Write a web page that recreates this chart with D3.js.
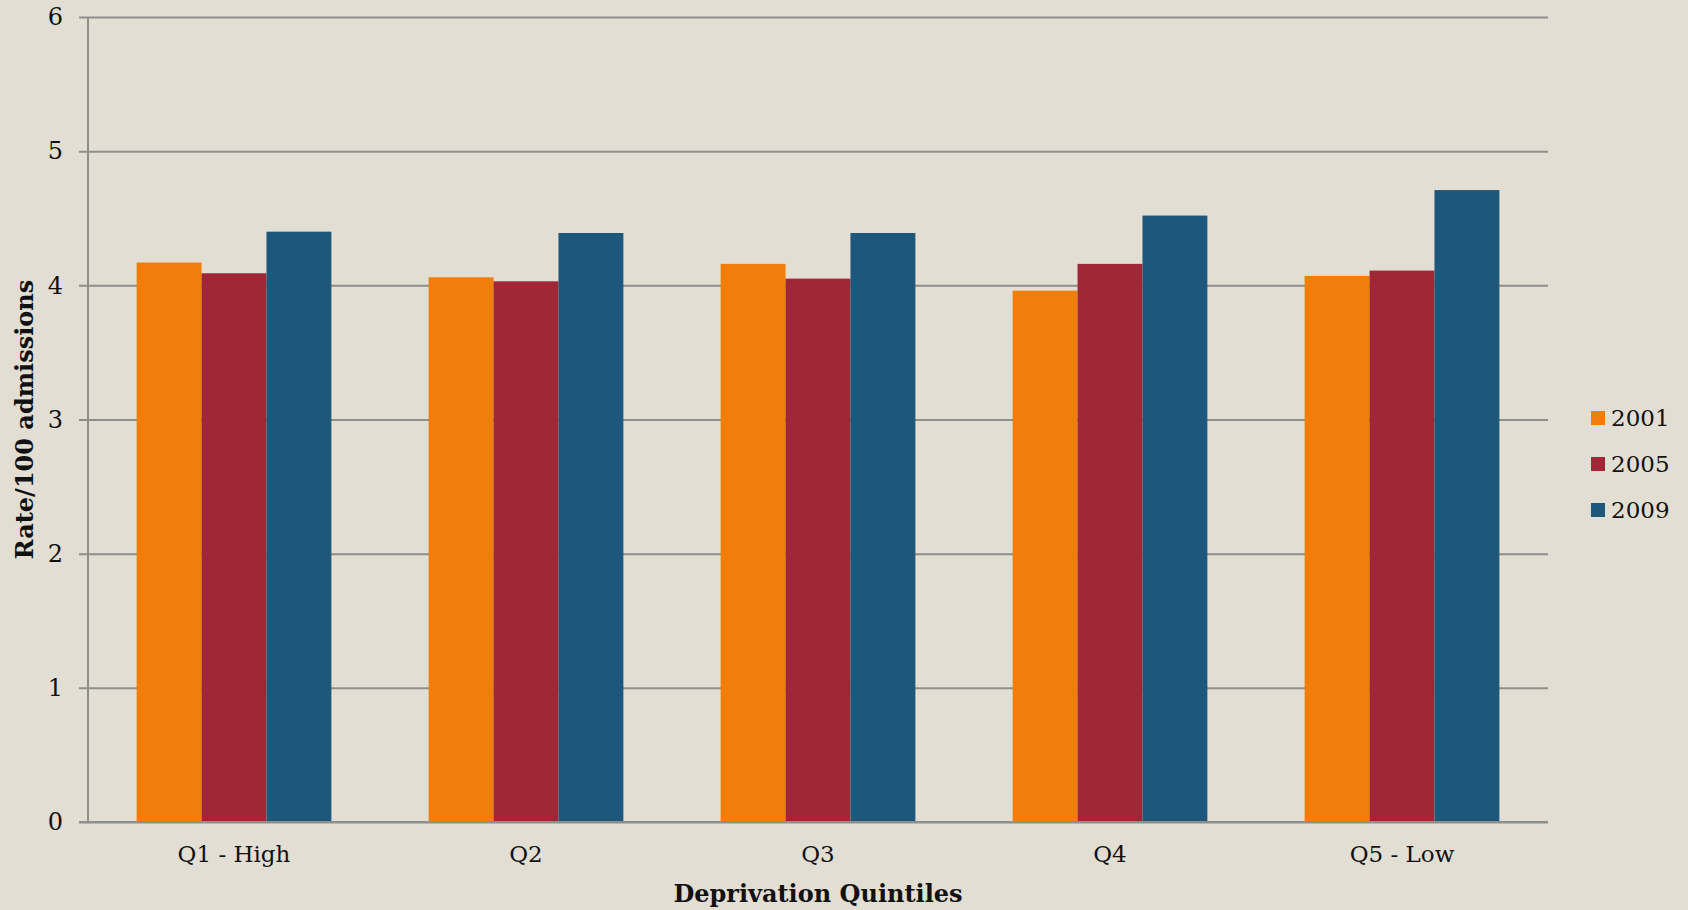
<!DOCTYPE html>
<html>
<head>
<meta charset="utf-8">
<script src="https://cdn.jsdelivr.net/npm/d3@7"></script>
<style>
  html, body { margin: 0; padding: 0; background: #E3DED3; }
  svg { display: block; }
  text { font-family: "DejaVu Serif", "Liberation Serif", serif; fill: #111; }
</style>
</head>
<body>
<svg id="chart" width="1688" height="910"></svg>
<script>
// Hospital admission rates by deprivation quintile
const categories = ["Q1 - High", "Q2", "Q3", "Q4", "Q5 - Low"];
const seriesNames = ["2001", "2005", "2009"];
const values2001 = [4.17, 4.06, 4.16, 3.96, 4.07];
const values2005 = [4.09, 4.03, 4.05, 4.16, 4.11];
const values2009 = [4.40, 4.39, 4.39, 4.52, 4.71];
const yTicks = [0, 1, 2, 3, 4, 5, 6];
const colors = ["#EF7E0A", "#A02736", "#1D587C"];

const seriesValues = [values2001, values2005, values2009];

const svg = d3.select("#chart");
const margin = { left: 88, right: 140, top: 17, bottom: 88 };
const W = 1688, H = 910;
const serif = "'DejaVu Serif', serif";

const x = d3.scaleBand()
  .domain(categories)
  .range([margin.left, W - margin.right])
  .paddingInner(0.333)
  .paddingOuter(0.1665);

const xs = d3.scaleBand()
  .domain(seriesNames)
  .range([0, x.bandwidth()]);

const y = d3.scaleLinear()
  .domain([0, 6])
  .range([H - margin.bottom, margin.top]);

// Horizontal gridlines with short ticks left of the axis
const yAxis = d3.axisLeft(y)
  .tickValues(yTicks)
  .tickSize(-(W - margin.right - margin.left))
  .tickSizeOuter(0)
  .tickPadding(25)
  .tickFormat(d3.format("d"));

const gy = svg.append("g")
  .attr("transform", `translate(${margin.left},0)`)
  .call(yAxis);
gy.select(".domain").remove();
gy.selectAll(".tick line")
  .attr("x1", -9)
  .attr("stroke", "#8E8E8A")
  .attr("stroke-width", 2);
gy.selectAll(".tick text")
  .attr("font-size", 24)
  .style("font-family", serif)
  .attr("fill", "#111");

// Vertical axis line
svg.append("line")
  .attr("x1", margin.left).attr("x2", margin.left)
  .attr("y1", y(6)).attr("y2", y(0))
  .attr("stroke", "#8E8E8A").attr("stroke-width", 2);

// Bars
const groups = svg.append("g").selectAll("g")
  .data(categories)
  .join("g")
  .attr("transform", d => `translate(${x(d)},0)`);

groups.selectAll("rect")
  .data((c, i) => seriesNames.map((s, k) => ({ s, k, v: seriesValues[k][i] })))
  .join("rect")
  .attr("x", d => xs(d.s))
  .attr("width", xs.bandwidth())
  .attr("y", d => y(d.v))
  .attr("height", d => y(0) - y(d.v))
  .attr("fill", d => colors[d.k]);

// Baseline redrawn above bars
svg.append("line")
  .attr("x1", margin.left - 9).attr("x2", W - margin.right)
  .attr("y1", y(0)).attr("y2", y(0))
  .attr("stroke", "#8E8E8A").attr("stroke-width", 2);

// Category labels
const xAxis = d3.axisBottom(x).tickSize(0).tickPadding(24);
const gx = svg.append("g")
  .attr("transform", `translate(0,${y(0)})`)
  .call(xAxis);
gx.select(".domain").remove();
gx.selectAll(".tick text")
  .attr("font-size", 23)
  .style("font-family", serif)
  .attr("fill", "#111");

// Axis titles
svg.append("text")
  .attr("x", (margin.left + W - margin.right) / 2)
  .attr("y", 902)
  .attr("text-anchor", "middle")
  .attr("font-size", 24)
  .attr("font-weight", "bold")
  .text("Deprivation Quintiles");

svg.append("text")
  .attr("transform", `translate(33,${(y(0) + y(6)) / 2}) rotate(-90)`)
  .attr("text-anchor", "middle")
  .attr("font-size", 24)
  .attr("font-weight", "bold")
  .text("Rate/100 admissions");

// Legend
const legend = svg.append("g")
  .attr("transform", "translate(1591,411)");
const items = legend.selectAll("g")
  .data(seriesNames)
  .join("g")
  .attr("transform", (d, i) => `translate(0,${i * 46})`);
items.append("rect")
  .attr("width", 14).attr("height", 14)
  .attr("fill", (d, i) => colors[i]);
items.append("text")
  .attr("x", 20).attr("y", 15)
  .attr("font-size", 23)
  .text(d => d);
</script>
</body>
</html>
